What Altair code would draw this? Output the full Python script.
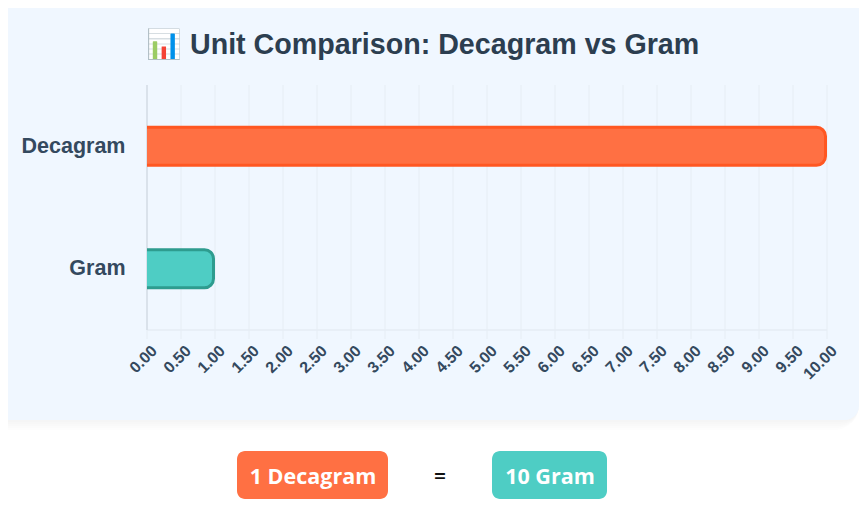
import altair as alt
import pandas as pd

units = ["Decagram", "Gram"]
values = [10, 1]
baseline = [0, 0]
fills = ["#FF7043", "#4ECDC4"]
strokes = ["#FF5722", "#2E9C8F"]
ticks = [i * 0.5 for i in range(21)]
title_text = "📊 Unit Comparison: Decagram vs Gram"
left_pill = "1 Decagram"
right_pill = "10 Gram"
equals = "="

W, H = 680, 245
PANEL = "#F0F7FF"
one = alt.Data(values=[{"a": 1}])
bars_df = pd.DataFrame({"unit": units, "value": values, "start": baseline, "fillc": fills, "strokec": strokes})
ticks_df = pd.DataFrame({"t": ticks})

x_scale = alt.Scale(domain=[0, 10], nice=False, zero=True)
y_scale = alt.Scale(domain=units, paddingInner=0.69, paddingOuter=0.345)
x_axis = alt.Axis(
    values=ticks, format=".2f", title=None, grid=False, zindex=1,
    domain=False, ticks=False, labelAngle=-45, labelAlign="right",
    labelBaseline="middle", labelPadding=18, labelOffset=7,
    labelFont="Liberation Sans", labelFontWeight="bold", labelFontSize=16,
    labelColor="#34495E", labelOverlap=False, labelFlush=False, labelBound=False,
)


def box(x1, x2, y1, y2, fill, **kw):
    return alt.Chart(one).mark_rect(fill=fill, **kw).encode(
        x=alt.value(x1), x2=alt.value(x2), y=alt.value(y1), y2=alt.value(y2)
    )


def label(text, x, y, size, color, font, weight, align="center"):
    return alt.Chart(one).mark_text(
        text=text, fontSize=size, color=color, font=font, fontWeight=weight,
        align=align, baseline="middle",
    ).encode(x=alt.value(x), y=alt.value(y))


shadow = [
    box(-139, 712, -77, 335 + e, "#000000", opacity=0.006, cornerRadiusBottomRight=14 + e)
    for e in (10, 8, 6, 4, 2)
]
panel = box(-139, 712, -77, 335, PANEL, cornerRadiusBottomRight=14)

grid = alt.Chart(ticks_df).mark_rule(color="#E6EDF4", strokeWidth=1).encode(
    x=alt.X("t:Q", scale=x_scale, axis=x_axis),
    y=alt.value(0),
    y2=alt.value(H + 9),
)
base_line = alt.Chart(one).mark_rule(color="#E6EDF4", strokeWidth=1.5).encode(
    x=alt.value(0), x2=alt.value(W), y=alt.value(H)
)
left_line = alt.Chart(one).mark_rule(color="#D5DDE6", strokeWidth=1.5).encode(
    x=alt.value(0), y=alt.value(0), y2=alt.value(H)
)

bars = alt.Chart(bars_df).mark_bar(
    clip=True, strokeWidth=3, x2Offset=-3, xOffset=-1.5,
    cornerRadiusTopRight=9, cornerRadiusBottomRight=9,
).encode(
    x=alt.X("value:Q", scale=x_scale, axis=x_axis),
    x2=alt.X2("start:Q"),
    y=alt.Y(
        "unit:N", scale=y_scale, sort=units,
        axis=alt.Axis(
            title=None, ticks=False, domain=False,
            grid=False, zindex=1, labelPadding=22, labelFont="Liberation Sans",
            labelFontWeight="bold", labelFontSize=21.5, labelColor="#34495E",
            labelOffset=0.5,
        ),
    ),
    fill=alt.Fill("fillc:N", scale=None),
    stroke=alt.Stroke("strokec:N", scale=None),
)

title = label(title_text, -1, -40, 28.65, "#2C3E50", "Liberation Sans", "bold", "left")

pill_a = box(90, 241, 366, 414, fills[0], cornerRadius=8)
pill_b = box(345, 460, 366, 414, fills[1], cornerRadius=8)
text_a = label(left_pill, 166, 392.5, 21.5, "#FFFFFF", "Open Sans", 700)
text_b = label(right_pill, 403, 392.5, 21.5, "#FFFFFF", "Open Sans", 700)
text_eq = label(equals, 293, 393, 21, "#111111", "Open Sans", 600)

chart = alt.layer(
    *shadow, panel, grid, base_line, left_line, bars, title,
    pill_a, pill_b, text_a, text_b, text_eq,
).properties(
    width=W, height=H, background="#FFFFFF",
    autosize=alt.AutoSizeParams(type="none"),
    padding={"left": 139, "top": 77, "right": 32, "bottom": 179},
).configure_view(stroke=None)

chart.save("out.html", embed_options={"renderer": "svg", "actions": False})
